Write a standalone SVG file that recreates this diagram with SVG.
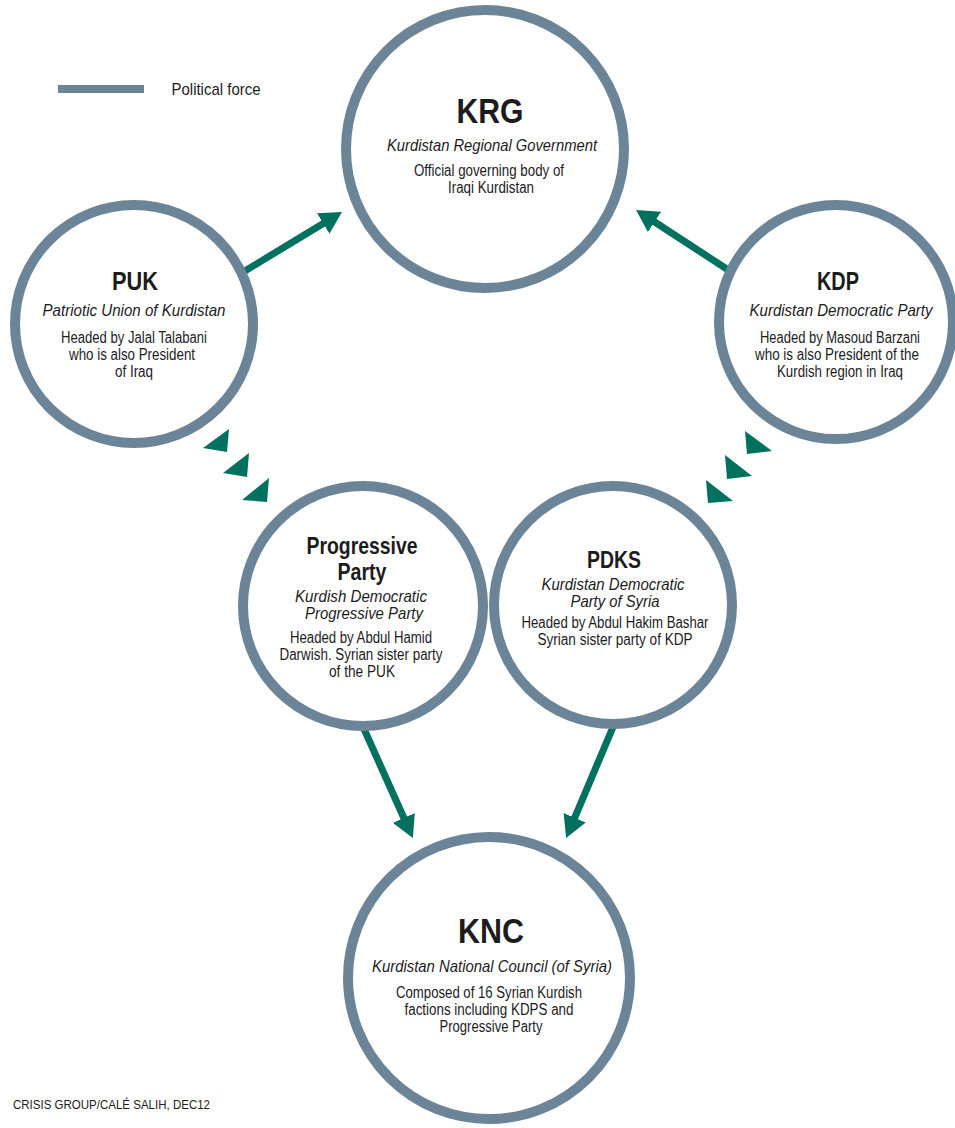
<svg xmlns="http://www.w3.org/2000/svg" width="955" height="1128" viewBox="0 0 955 1128">
<style>
text{font-family:"Liberation Sans Narrow","Liberation Sans",Arial,sans-serif;fill:#1c1c1c;text-anchor:middle}
.ring{fill:#fff;stroke:#6c8497;stroke-width:10}
.t1{font-size:35px;font-weight:bold}
.t2{font-size:26px;font-weight:bold}
.t3{font-size:24px;font-weight:bold}
.it{font-size:17px;font-style:italic}
.bd{font-size:16px}
.arrow{stroke:#00705f;stroke-width:7;fill:none;marker-end:url(#ah)}
.tri{fill:#00705f}
</style>
<defs>
<marker id="ah" markerUnits="userSpaceOnUse" viewBox="0 0 22 24" markerWidth="22" markerHeight="24" refX="2" refY="12" orient="auto">
<path d="M0,0 L22,12 L0,24 z" fill="#00705f"/>
</marker>
</defs>
<rect width="955" height="1128" fill="#fff"/>
<g id="legend">
<line x1="58" y1="89" x2="144" y2="89" stroke="#6c8497" stroke-width="8"/>
<text x="216" y="95" style="font-size:17px" textLength="89" lengthAdjust="spacingAndGlyphs">Political force</text>
</g>
<g id="connectors">
<line class="arrow" x1="240" y1="274" x2="324.9" y2="222.4"/>
<line class="arrow" x1="736" y1="275" x2="652.8" y2="220.8"/>
<line class="arrow" x1="360" y1="720" x2="404.7" y2="819.8"/>
<line class="arrow" x1="616" y1="720" x2="573.9" y2="819.6"/>
<polygon class="tri" points="203,448 229,429 227,452"/>
<polygon class="tri" points="223,473 249,453 247,477"/>
<polygon class="tri" points="242,500 269,478 267,502"/>
<polygon class="tri" points="745,431 772,451 747,454"/>
<polygon class="tri" points="725,455 752,476 727,479"/>
<polygon class="tri" points="706,480 733,501 708,503"/>
</g>
<g id="krg">
<circle class="ring" cx="485" cy="149" r="139"/>
<text class="t1" x="490" y="123" textLength="67" lengthAdjust="spacingAndGlyphs">KRG</text>
<text class="it" x="492" y="151" textLength="210" lengthAdjust="spacingAndGlyphs">Kurdistan Regional Government</text>
<text class="bd" x="489" y="176" textLength="150" lengthAdjust="spacingAndGlyphs">Official governing body of</text>
<text class="bd" x="491" y="193" textLength="86" lengthAdjust="spacingAndGlyphs">Iraqi Kurdistan</text>
</g>
<g id="puk">
<circle class="ring" cx="134" cy="324" r="119"/>
<text class="t2" x="135" y="290" textLength="46" lengthAdjust="spacingAndGlyphs">PUK</text>
<text class="it" x="134" y="316" textLength="183" lengthAdjust="spacingAndGlyphs">Patriotic Union of Kurdistan</text>
<text class="bd" x="134" y="343" textLength="146" lengthAdjust="spacingAndGlyphs">Headed by Jalal Talabani</text>
<text class="bd" x="132" y="360" textLength="126" lengthAdjust="spacingAndGlyphs">who is also President</text>
<text class="bd" x="134" y="377" textLength="38" lengthAdjust="spacingAndGlyphs">of Iraq</text>
</g>
<g id="kdp">
<circle class="ring" cx="836" cy="322" r="117"/>
<text class="t2" x="838" y="290" textLength="42" lengthAdjust="spacingAndGlyphs">KDP</text>
<text class="it" x="841" y="316" textLength="183" lengthAdjust="spacingAndGlyphs">Kurdistan Democratic Party</text>
<text class="bd" x="840" y="343" textLength="160" lengthAdjust="spacingAndGlyphs">Headed by Masoud Barzani</text>
<text class="bd" x="837" y="360" textLength="164" lengthAdjust="spacingAndGlyphs">who is also President of the</text>
<text class="bd" x="840" y="377" textLength="126" lengthAdjust="spacingAndGlyphs">Kurdish region in Iraq</text>
</g>
<g id="progressive">
<circle class="ring" cx="363" cy="606" r="120"/>
<text class="t3" x="362" y="554" textLength="111" lengthAdjust="spacingAndGlyphs">Progressive</text>
<text class="t3" x="362" y="580" textLength="49" lengthAdjust="spacingAndGlyphs">Party</text>
<text class="it" x="361" y="602" textLength="132" lengthAdjust="spacingAndGlyphs">Kurdish Democratic</text>
<text class="it" x="364" y="619" textLength="118" lengthAdjust="spacingAndGlyphs">Progressive Party</text>
<text class="bd" x="361" y="643" textLength="142" lengthAdjust="spacingAndGlyphs">Headed by Abdul Hamid</text>
<text class="bd" x="361" y="660" textLength="163" lengthAdjust="spacingAndGlyphs">Darwish. Syrian sister party</text>
<text class="bd" x="362" y="677" textLength="66" lengthAdjust="spacingAndGlyphs">of the PUK</text>
</g>
<g id="pdks">
<circle class="ring" cx="613" cy="605" r="119"/>
<text class="t3" x="614" y="568" textLength="54" lengthAdjust="spacingAndGlyphs">PDKS</text>
<text class="it" x="613" y="590" textLength="143" lengthAdjust="spacingAndGlyphs">Kurdistan Democratic</text>
<text class="it" x="615" y="607" textLength="89" lengthAdjust="spacingAndGlyphs">Party of Syria</text>
<text class="bd" x="615" y="628" textLength="187" lengthAdjust="spacingAndGlyphs">Headed by Abdul Hakim Bashar</text>
<text class="bd" x="615" y="645" textLength="155" lengthAdjust="spacingAndGlyphs">Syrian sister party of KDP</text>
</g>
<g id="knc">
<circle class="ring" cx="489" cy="978" r="141"/>
<text class="t1" x="491" y="943" textLength="66" lengthAdjust="spacingAndGlyphs">KNC</text>
<text class="it" x="492" y="972" textLength="240" lengthAdjust="spacingAndGlyphs">Kurdistan National Council (of Syria)</text>
<text class="bd" x="489" y="998" textLength="186" lengthAdjust="spacingAndGlyphs">Composed of 16 Syrian Kurdish</text>
<text class="bd" x="489" y="1015" textLength="169" lengthAdjust="spacingAndGlyphs">factions including KDPS and</text>
<text class="bd" x="491" y="1032" textLength="103" lengthAdjust="spacingAndGlyphs">Progressive Party</text>
</g>
<g id="credit">
<text x="13" y="1109" style="font-size:13px;text-anchor:start" textLength="197" lengthAdjust="spacingAndGlyphs">CRISIS GROUP/CALÉ SALIH, DEC12</text>
</g>
</svg>
